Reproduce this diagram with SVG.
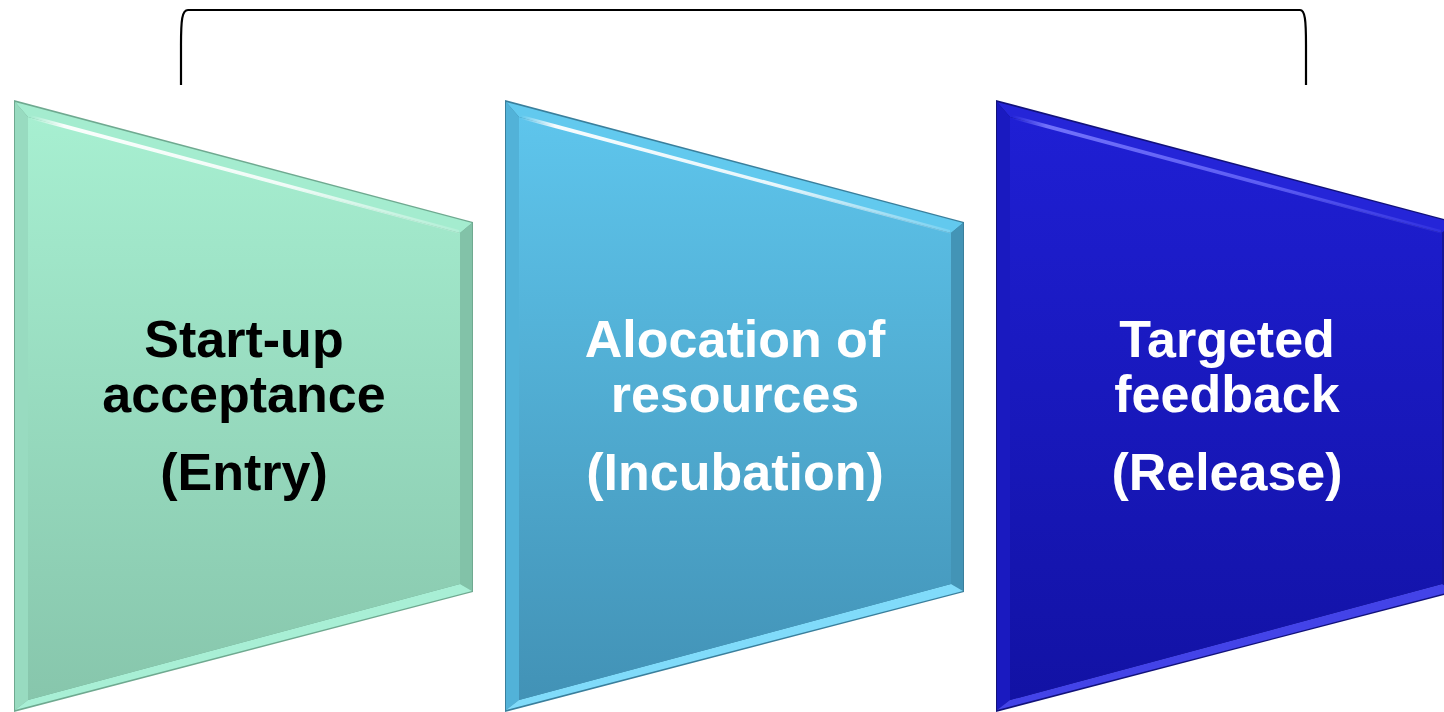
<svg xmlns="http://www.w3.org/2000/svg" width="1444" height="712" viewBox="0 0 1444 712">
<style>
  .lbl { font-family: "Liberation Sans", Arial, sans-serif; font-weight: bold; font-size: 52px; text-anchor: middle; }
  .dark { fill: #000000; }
  .light { fill: #ffffff; }
  .bracket { fill: none; stroke: #000000; stroke-width: 2.2; }
</style>
<defs>
  <linearGradient id="g1" x1="0" y1="0" x2="0" y2="1">
    <stop offset="0" stop-color="#A7EFD1"/>
    <stop offset="1" stop-color="#87C6AC"/>
  </linearGradient>
  <linearGradient id="g2" x1="0" y1="0" x2="0" y2="1">
    <stop offset="0" stop-color="#5EC5EC"/>
    <stop offset="1" stop-color="#4292B6"/>
  </linearGradient>
  <linearGradient id="g3" x1="0" y1="0" x2="0" y2="1">
    <stop offset="0" stop-color="#1F1FD4"/>
    <stop offset="1" stop-color="#1212A4"/>
  </linearGradient>
  <linearGradient id="gloss" x1="0" y1="0" x2="1" y2="0">
    <stop offset="0" stop-color="#ffffff" stop-opacity="0"/>
    <stop offset="0.08" stop-color="#ffffff" stop-opacity="0.95"/>
    <stop offset="0.6" stop-color="#ffffff" stop-opacity="0.85"/>
    <stop offset="1" stop-color="#ffffff" stop-opacity="0.15"/>
  </linearGradient>
  <linearGradient id="glossB" x1="0" y1="0" x2="1" y2="0">
    <stop offset="0" stop-color="#7070ff" stop-opacity="0"/>
    <stop offset="0.08" stop-color="#7a7aff" stop-opacity="0.9"/>
    <stop offset="0.6" stop-color="#7070ff" stop-opacity="0.75"/>
    <stop offset="1" stop-color="#7070ff" stop-opacity="0.15"/>
  </linearGradient>
</defs>

<g id="connectors">
  <path class="bracket" d="M181,85 L181,45 C181,20 182,10 188,10 L1300,10 C1305,10 1306,20 1306,45 L1306,85"/>
</g>

<g id="node-entry">
  <polygon points="14,100 473,222 473,592 14,712" fill="#6FA990"/>
  <polygon points="15,102 472,223 460,233 28,117" fill="#A4ECCF"/>
  <polygon points="15,102 28,117 28,700 15,710" fill="#98DBC0"/>
  <polygon points="472,223 472,591 460,584 460,233" fill="#82C2A8"/>
  <polygon points="15,710 28,700 460,584 472,591" fill="#A8EFD5"/>
  <polygon points="28,117 460,233 460,584 28,700" fill="url(#g1)"/>
  <polygon points="30,115 459,230 459,233.5 30,119" fill="url(#gloss)"/>
  <text class="lbl dark" x="244" y="357">Start-up</text>
  <text class="lbl dark" x="244" y="412">acceptance</text>
  <text class="lbl dark" x="244" y="490">(Entry)</text>
</g>

<g id="node-incubation">
  <polygon points="505,100 964,222 964,592 505,712" fill="#3A7F9C"/>
  <polygon points="506,102 963,223 951,233 519,117" fill="#62C9EE"/>
  <polygon points="506,102 519,117 519,700 506,710" fill="#52B2D8"/>
  <polygon points="963,223 963,591 951,584 951,233" fill="#4394B6"/>
  <polygon points="506,710 519,700 951,584 963,591" fill="#80DBFA"/>
  <polygon points="519,117 951,233 951,584 519,700" fill="url(#g2)"/>
  <polygon points="521,115 950,230 950,233.5 521,119" fill="url(#gloss)"/>
  <text class="lbl light" x="735" y="357">Alocation of</text>
  <text class="lbl light" x="735" y="412">resources</text>
  <text class="lbl light" x="735" y="490">(Incubation)</text>
</g>

<g id="node-release">
  <polygon points="996,100 1455,222 1455,592 996,712" fill="#12127A"/>
  <polygon points="997,102 1454,223 1442,233 1010,117" fill="#2525D8"/>
  <polygon points="997,102 1010,117 1010,700 997,710" fill="#1A1AC0"/>
  <polygon points="1454,223 1454,591 1442,584 1442,233" fill="#15159A"/>
  <polygon points="997,710 1010,700 1442,584 1454,591" fill="#4343E8"/>
  <polygon points="1010,117 1442,233 1442,584 1010,700" fill="url(#g3)"/>
  <polygon points="1012,115 1441,230 1441,233.5 1012,119" fill="url(#glossB)"/>
  <text class="lbl light" x="1227" y="357">Targeted</text>
  <text class="lbl light" x="1227" y="412">feedback</text>
  <text class="lbl light" x="1227" y="490">(Release)</text>
</g>
</svg>
